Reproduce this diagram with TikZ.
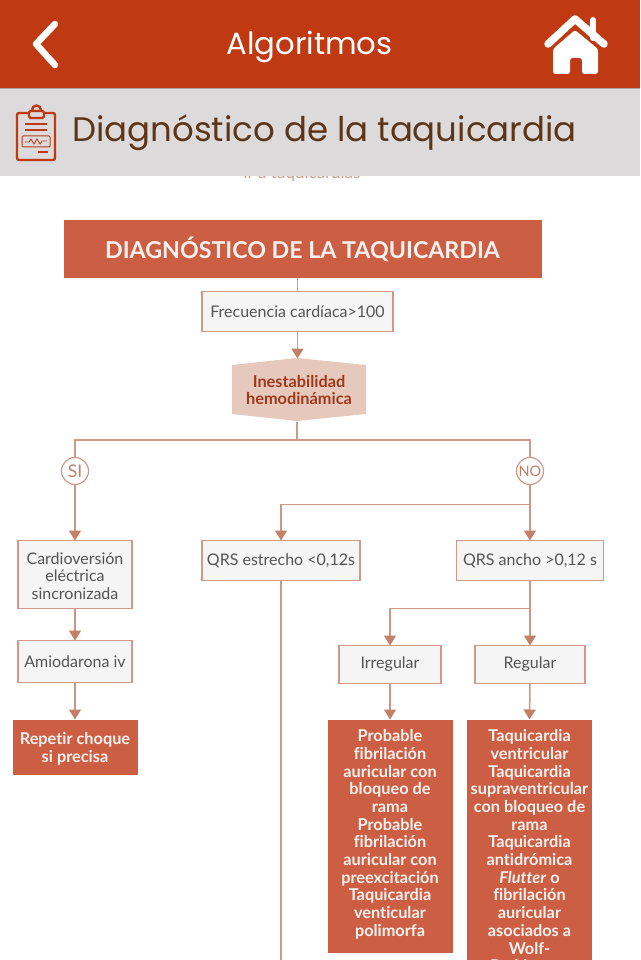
\documentclass[tikz,border=0pt]{standalone}
\usepackage{fontspec}
\setmainfont[Ligatures=NoCommon]{Lato}
\newfontfamily\headfont{Poppins}
\usetikzlibrary{arrows.meta, positioning, backgrounds}
\definecolor{BarRed}{HTML}{BF3A12}
\definecolor{BoxRed}{HTML}{CC5F43}
\definecolor{BandGrey}{HTML}{DCDADB}
\definecolor{EdgeRose}{HTML}{D09A88}
\definecolor{TipRose}{HTML}{C47F67}
\definecolor{HexRose}{HTML}{E6C8BD}
\definecolor{HexText}{HTML}{A0391B}
\definecolor{TitleBrown}{HTML}{5E3516}
\definecolor{BodyGrey}{HTML}{555555}

\begin{document}
\begin{tikzpicture}[
        x=1pt, y=-1pt,
        node distance=30pt,
        % Cajas claras
        whitebox/.style={
                rectangle,
                minimum height=40pt,
                align=center,
                inner sep=0pt,
                outer sep=0pt,
                font=\fontsize{16}{17.5}\selectfont,
                text=BodyGrey,
                fill=black!4,
                draw=EdgeRose,
                line width=1.4pt
            },
        % Cajas de resultado
        redbox/.style={
                rectangle,
                minimum width=125pt,
                align=center,
                inner sep=0pt,
                outer sep=0pt,
                font=\fontsize{16.3}{17.7}\selectfont\bfseries,
                text=white!92!BoxRed,
                fill=BoxRed
            },
        % SI / NO
        answer/.style={
                circle,
                minimum size=27pt,
                inner sep=0pt,
                outer sep=0pt,
                font=\fontsize{17.5}{19}\selectfont,
                text=TipRose,
                fill=white,
                draw=EdgeRose,
                line width=1.2pt
            },
        % Flechas
        arrow/.style={
                -{Triangle[length=10pt,width=12pt,color=TipRose]},
                line width=1.5pt,
                color=EdgeRose!85!TipRose
            },
        plainline/.style={
                line width=1.5pt,
                color=EdgeRose
            }
    ]

    \useasboundingbox (0,0) rectangle (640,960);
    \clip (0,0) rectangle (640,960);

    \begin{scope}[on background layer]
        \fill[white] (0,0) rectangle (640,960);
    \end{scope}

    % Resto del texto bajo la banda
    \node[font=\fontsize{17}{19}\selectfont, text=EdgeRose] (resto) at (302,173.5) {ir a taquicardias};

    % Barra superior y banda gris
    \fill[BarRed] (0,0) rectangle (640,88);
    \fill[BandGrey] (0,88) rectangle (640,176);
    \draw[black!35, line width=0.7pt] (0,88.5) -- (640,88.5);
    \node[font=\headfont\fontsize{30.7}{34}\selectfont, text=white] (barra) at (309.5,46.5) {Algoritmos};
    \node[font=\headfont\fontsize{34}{38}\selectfont, text=TitleBrown, anchor=west, inner sep=0pt] (banda) at (72,133) {Diagnóstico de la taquicardia};

    % Flecha de volver
    \draw[white, line width=6.5pt, line cap=round, line join=round] (55,24) -- (36,44) -- (55,65);

    % Casa
    \draw[white, line width=6pt, line cap=round] (593,20) -- (593,38);
    \draw[white, line width=7.5pt, line cap=round, line join=round] (548,44) -- (575,19) -- (604,44);
    \fill[white, rounded corners=2.5pt] (575,30) -- (598,49) -- (598,74) -- (582,74) -- (582,58) -- (570,58) -- (570,74) -- (553,74) -- (553,49) -- cycle;

    % Icono de la banda
    \draw[BarRed, line width=2.4pt, rounded corners=2pt] (28,113) -- (17,113) -- (17,160) -- (55,160) -- (55,113) -- (45,113);
    \draw[BarRed, line width=2.4pt, rounded corners=1.5pt] (29,111) rectangle (44,118);
    \draw[BarRed, line width=2.4pt] (32,110) arc[start angle=180, end angle=0, radius=4.5pt];
    \draw[BarRed, line width=2.4pt] (25,124) -- (47,124) (25,130) -- (47,130);
    \draw[BarRed, line width=1pt, rounded corners=1pt] (22,136) rectangle (50,147);
    \draw[BarRed, line width=0.8pt] (25,142) -- (29,142) -- (31,139) -- (34,144) -- (37,139) -- (40,144) -- (42,141) -- (47,141);
    \draw[BarRed, line width=2.4pt] (38,152) -- (48,152);

    % Título del algoritmo
    \node[fill=BoxRed, minimum width=478pt, minimum height=58pt, outer sep=0pt, inner sep=0pt,
        text height=21pt, text depth=1pt,
        font=\fontsize{23.2}{26}\selectfont\bfseries, text=white!92!BoxRed] (titulo) at (302.5,248.5)
        {DIAGNÓSTICO DE LA TAQUICARDIA};

    % Tronco
    \node[whitebox, minimum width=191pt, below=14pt of titulo, xshift=-5pt] (frecuencia) {Frecuencia cardíaca>100};
    \node[minimum width=134pt, minimum height=63pt, outer sep=0pt, inner sep=0pt, align=center,
        font=\fontsize{16.3}{17.5}\selectfont\bfseries, text=HexText, below=27pt of frecuencia, xshift=1.5pt] (hexa)
        {Inestabilidad\\hemodinámica};
    \begin{scope}[on background layer]
        \fill[HexRose] (hexa.west |- 0,365) -- (297,358) -- (hexa.east |- 0,365) -- (hexa.east |- 0,414) -- (297,421) -- (hexa.west |- 0,414) -- cycle;
    \end{scope}
    \coordinate (ramal) at (297,440);

    % SI y NO
    \node[answer] (si) at (75,471) {SI};
    \node[answer, font=\fontsize{14.5}{16}\selectfont] (no) at (530,471) {NO};
    \coordinate[below=20pt of no] (cruce);

    % Rama SI
    \node[whitebox, minimum width=114pt, minimum height=68pt, below=56pt of si] (cardio) {\rule{0pt}{15pt}Cardioversión\\eléctrica\\sincronizada};
    \node[whitebox, minimum width=114pt, minimum height=42pt, below=32pt of cardio] (amiodarona) {Amiodarona iv};
    \node[redbox, minimum height=55pt, below=37pt of amiodarona] (repetir) {\rule{0pt}{16pt}Repetir choque\\si precisa};

    % Rama NO
    \node[whitebox, minimum width=158pt, below=56pt of no, xshift=-249pt] (estrecho) {QRS estrecho <0,12s};
    \node[whitebox, minimum width=147pt, below=56pt of no] (ancho) {QRS ancho >0,12 s};
    \coordinate[below=28pt of ancho] (cruceqrs);
    \coordinate[below=385pt of estrecho] (sigue);
    \node[whitebox, minimum width=110pt, minimum height=38pt, below=65pt of ancho] (regular) {Regular};
    \node[whitebox, minimum width=102pt, minimum height=38pt, below=65pt of ancho, xshift=-140pt] (irregular) {Irregular};

    \node[redbox, below=36pt of irregular, inner ysep=10pt] (fibrilacion) {Probable\\fibrilación\\auricular con\\bloqueo de\\rama\\Probable\\fibrilación\\auricular con\\preexcitación\\Taquicardia\\venticular\\polimorfa\rule[-7pt]{0pt}{1pt}};
    \node[redbox, below=36pt of regular, xshift=-0.5pt, inner ysep=10pt] (ventricular) {Taquicardia\\ventricular\\Taquicardia\\supraventricular\\con bloqueo de\\rama\\Taquicardia\\antidrómica\\\textit{Flutter} o\\fibrilación\\auricular\\asociados a\\Wolf-\\Parkinson-\\White};

    % Conectores
    \draw[plainline] (frecuencia.north) -- (frecuencia.north |- titulo.south);
    \draw[arrow] (frecuencia.south) -- (frecuencia.south |- hexa.north);
    \draw[plainline] (ramal |- hexa.south) -- (ramal);
    \draw[plainline] (si.north) |- (ramal);
    \draw[plainline] (no.north) |- (ramal);
    \draw[arrow] (si.south) -- (cardio.north);
    \draw[arrow] (no.south) -- (ancho.north);
    \draw[arrow] (cruce) -| (estrecho.north);
    \draw[arrow] (cardio.south) -- (amiodarona.north);
    \draw[arrow] (amiodarona.south) -- (repetir.north);
    \draw[plainline] (estrecho.south) -- (sigue);
    \draw[arrow] (ancho.south) -- (regular.north);
    \draw[arrow] (cruceqrs) -| (irregular.north);
    \draw[arrow] (irregular.south) -- (fibrilacion.north);
    \draw[arrow] (regular.south) -- (ventricular.north);

\end{tikzpicture}
\end{document}
